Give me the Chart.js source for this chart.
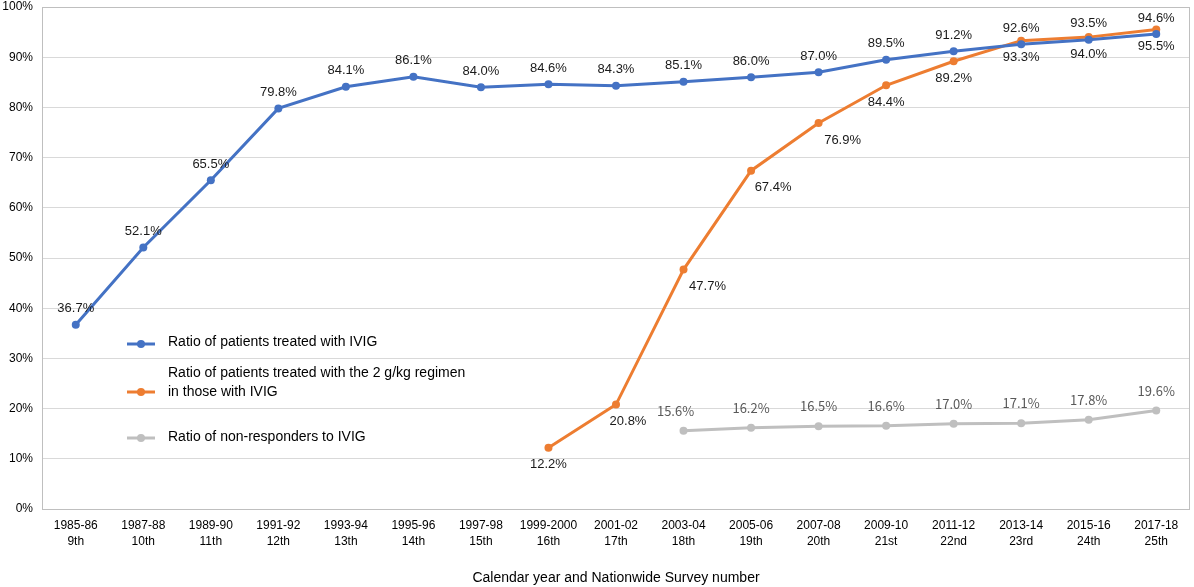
<!DOCTYPE html>
<html><head><meta charset="utf-8">
<script src="https://cdn.jsdelivr.net/npm/chart.js@4"></script>
<style>html,body{margin:0;padding:0;background:#fff}#wrap{width:1194px;height:587px;position:relative}</style>
</head><body><div id="wrap"><canvas id="c" width="1194" height="587"></canvas></div>
<script>
const categories = [["1985-86","9th"],["1987-88","10th"],["1989-90","11th"],["1991-92","12th"],["1993-94","13th"],["1995-96","14th"],["1997-98","15th"],["1999-2000","16th"],["2001-02","17th"],["2003-04","18th"],["2005-06","19th"],["2007-08","20th"],["2009-10","21st"],["2011-12","22nd"],["2013-14","23rd"],["2015-16","24th"],["2017-18","25th"]];
const ivig = [36.7,52.1,65.5,79.8,84.1,86.1,84.0,84.6,84.3,85.1,86.0,87.0,89.5,91.2,92.6,93.5,94.6];
const regimen2g = [null,null,null,null,null,null,null,12.2,20.8,47.7,67.4,76.9,84.4,89.2,93.3,94.0,95.5];
const nonResponders = [null,null,null,null,null,null,null,null,null,15.6,16.2,16.5,16.6,17.0,17.1,17.8,19.6];
const seriesNames = ["Ratio of patients treated with IVIG",["Ratio of patients treated with the 2 g/kg regimen","in those with IVIG"],"Ratio of non-responders to IVIG"];
const yTicks = [0,10,20,30,40,50,60,70,80,90,100];

const BLUE='#4472C4', ORANGE='#ED7D31', GRAY='#BFBFBF';
const FONT='"Liberation Sans", Arial, sans-serif';

const labelStyle = [
  {dy:-16, dx:{}, font:'13px '+FONT, color:'#1a1a1a'},
  {dy:17, dx:{8:12,9:24,10:22,11:24}, font:'13px '+FONT, color:'#1a1a1a'},
  {dy:-20, dx:{9:-8}, font:'13px "Noto Sans CJK JP", sans-serif', color:'#595959'}
];

const labelsPlugin = {
  id:'vlabels',
  afterDatasetsDraw(chart){
    const ctx=chart.ctx;
    chart.data.datasets.forEach((ds,di)=>{
      const meta=chart.getDatasetMeta(di);
      const st=labelStyle[di];
      ctx.save();
      ctx.font=st.font; ctx.fillStyle=st.color; ctx.textAlign='center'; ctx.textBaseline='middle';
      meta.data.forEach((pt,i)=>{
        const v=ds.data[i]; if(v==null) return;
        ctx.fillText(v.toFixed(1)+'%', pt.x+(st.dx[i]||0), pt.y+st.dy);
      });
      ctx.restore();
    });
  }
};

const frameLegendPlugin = {
  id:'frameLegend',
  beforeDatasetsDraw(chart){
    const {ctx,chartArea:a}=chart;
    ctx.save(); ctx.strokeStyle='#BFBFBF'; ctx.lineWidth=1;
    ctx.strokeRect(Math.round(a.left)+0.5,Math.round(a.top)+0.5,Math.round(a.right-a.left)-1,Math.round(a.bottom-a.top));
    ctx.restore();
  },
  afterDraw(chart){
    const {ctx,chartArea:a}=chart;
    const cols=[BLUE,ORANGE,GRAY];
    const x0=a.left+85, x1=x0+28, tx=x0+41;
    const rows=[{m:344,t:[342]},{m:392,t:[373,392]},{m:438,t:[437]}];
    ctx.save();
    rows.forEach((r,i)=>{
      ctx.strokeStyle=cols[i]; ctx.lineWidth=3;
      ctx.beginPath(); ctx.moveTo(x0,r.m); ctx.lineTo(x1,r.m); ctx.stroke();
      ctx.fillStyle=cols[i]; ctx.beginPath(); ctx.arc((x0+x1)/2,r.m,4,0,Math.PI*2); ctx.fill();
      const lines=Array.isArray(seriesNames[i])?seriesNames[i]:[seriesNames[i]];
      ctx.fillStyle='#000'; ctx.font='14px '+FONT; ctx.textAlign='left'; ctx.textBaseline='middle';
      lines.forEach((l,j)=>ctx.fillText(l,tx,r.t[j]));
    });
    ctx.restore();
  }
};

const mk=(data,col,label)=>({label:Array.isArray(label)?label.join(' '):label,data,borderColor:col,backgroundColor:col,borderWidth:3,pointRadius:4,pointHoverRadius:4,pointBorderWidth:0,tension:0,spanGaps:false});

new Chart(document.getElementById('c'),{
  type:'line',
  data:{labels:categories,datasets:[mk(ivig,BLUE,seriesNames[0]),mk(regimen2g,ORANGE,seriesNames[1]),mk(nonResponders,GRAY,seriesNames[2])]},
  options:{
    responsive:false,animation:false,
    layout:{padding:{top:7,right:4,left:0,bottom:0}},
    plugins:{legend:{display:false},tooltip:{enabled:false}},
    scales:{
      x:{offset:true,grid:{display:false},border:{display:false},
        ticks:{color:'#000',font:{family:FONT,size:12,lineHeight:'16px'},padding:1,maxRotation:0,autoSkip:false},
        title:{display:true,text:'Calendar year and Nationwide Survey number',color:'#000',font:{family:FONT,size:14},padding:{top:20,bottom:0}},
        afterFit(s){s.height=78; s.paddingLeft=0; s.paddingRight=0;}
      },
      y:{min:0,max:100,afterBuildTicks(s){s.ticks=yTicks.map(v=>({value:v}));},
        grid:{color:'#D9D9D9',drawTicks:false},border:{display:false},
        ticks:{color:'#000',font:{family:FONT,size:12},padding:9,callback:v=>v+'%'},
        afterFit(s){s.width=42; s.paddingTop=0; s.paddingBottom=0;}
      }
    }
  },
  plugins:[labelsPlugin,frameLegendPlugin]
});
</script></body></html>
